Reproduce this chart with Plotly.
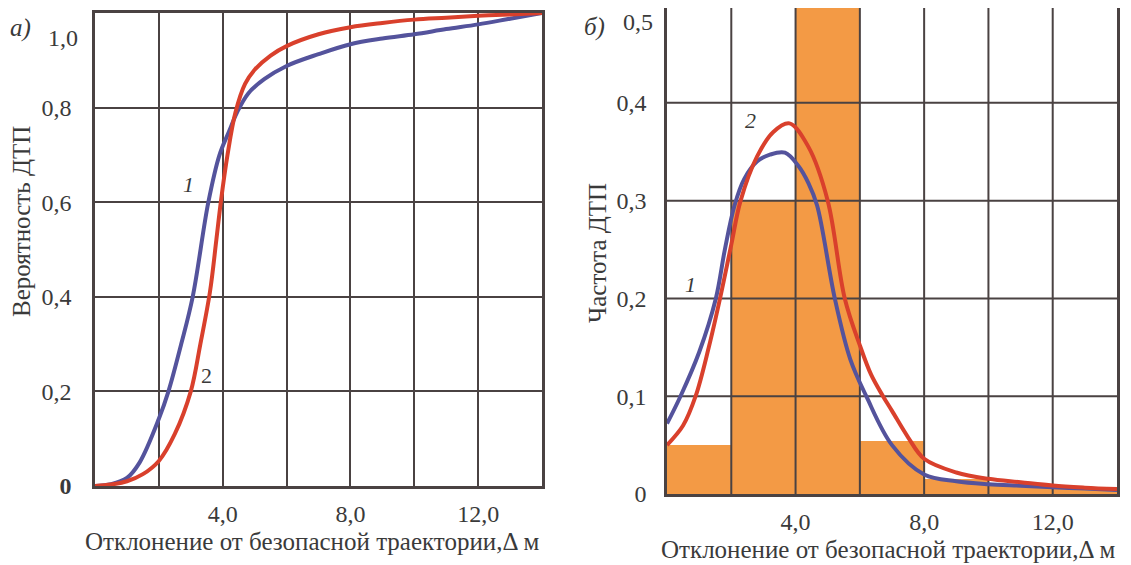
import plotly.graph_objects as go

# ---------------- data ----------------
# panel а) cumulative probability of accident
cdf1_x = [0, 0.5, 1.0, 1.4, 2.0, 2.3, 2.7, 3.06, 3.55, 3.9, 4.2, 4.45, 4.8, 5.3, 6.0, 7.0, 8.0, 9.0, 10.0, 11.0, 12.0, 13.0, 14.0]
cdf1_y = [0, 0.004, 0.017, 0.05, 0.142, 0.2, 0.3, 0.4, 0.6, 0.7, 0.75, 0.79, 0.83, 0.86, 0.888, 0.913, 0.934, 0.946, 0.955, 0.966, 0.976, 0.988, 1.0]
cdf2_x = [0, 0.5, 1.0, 1.5, 2.0, 2.5, 3.0, 3.3, 3.6, 3.8, 3.94, 4.15, 4.4, 4.7, 5.0, 5.5, 6.0, 7.0, 8.0, 9.0, 10.0, 11.0, 12.0, 13.0, 14.0]
cdf2_y = [0, 0.003, 0.01, 0.025, 0.053, 0.11, 0.2, 0.3, 0.41, 0.52, 0.6, 0.7, 0.79, 0.85, 0.88, 0.91, 0.93, 0.955, 0.97, 0.979, 0.986, 0.99, 0.994, 0.997, 1.0]

# panel б) accident frequency
hist_x = [1, 3, 5, 7, 9, 11, 13]
hist_y = [0.05, 0.30, 0.55, 0.054, 0.015, 0.009, 0.005]
pdf1_x = [0, 0.42, 1.0, 1.52, 1.8, 2.1, 2.4, 2.8, 3.2, 3.67, 4.1, 4.4, 4.67, 5.22, 5.7, 6.2, 7.0, 8.0, 9.0, 10.0, 11.0, 12.0, 13.0, 14.0]
pdf1_y = [0.072, 0.1, 0.145, 0.2, 0.25, 0.295, 0.322, 0.34, 0.347, 0.349, 0.335, 0.318, 0.295, 0.2, 0.138, 0.1, 0.05, 0.02, 0.013, 0.01, 0.0085, 0.007, 0.0055, 0.004]
pdf2_x = [0, 0.5, 0.89, 1.3, 1.65, 2.0, 2.29, 2.8, 3.3, 3.81, 4.4, 5.0, 5.53, 6.0, 6.35, 6.72, 7.0, 7.5, 8.0, 9.0, 10.0, 11.0, 12.0, 13.0, 14.0]
pdf2_y = [0.05, 0.07, 0.1, 0.15, 0.2, 0.255, 0.3, 0.345, 0.37, 0.379, 0.355, 0.3, 0.2, 0.152, 0.122, 0.1, 0.085, 0.058, 0.036, 0.022, 0.0155, 0.012, 0.0086, 0.0065, 0.005]

x_ticks = [0, 2, 4, 6, 8, 10, 12, 14]
x_ticktext = ["", "", "4,0", "", "8,0", "", "12,0", ""]
y1_ticks = [0, 0.2, 0.4, 0.6, 0.8, 1.0]
y1_ticktext = ["<b>0</b>", "0,2", "0,4", "0,6", "0,8", ""]
y1_top_label = "1,0"
y2_ticks = [0, 0.1, 0.2, 0.3, 0.4, 0.5]
y2_ticktext = ["0", "0,1", "0,2", "0,3", "0,4", ""]
y2_top_label = "0,5"

x_title = "Отклонение от безопасной траектории,Δ м"
y1_title = "Вероятность ДТП"
y2_title = "Частота ДТП"

# ---------------- style ----------------
W, H = 1131, 565
OFF = 8  # page offset of the plot div inside the browser window
FONT = "Liberation Serif, DejaVu Serif, Times New Roman, serif"
TXT = "#3a3a3a"
GRID = "#4a4242"
BLUE = "#54539c"
RED = "#d9402c"
ORANGE = "#f39a45"
TICK_SIZE = 24

def px_x(p):
    return (p - OFF) / W

def px_y(p):
    return 1 - (p - OFF) / H

fig = go.Figure()

line_kw = dict(width=4, shape="spline", smoothing=1.0)

fig.add_trace(go.Scatter(x=cdf1_x, y=cdf1_y, mode="lines", line=dict(color=BLUE, **line_kw),
                         xaxis="x", yaxis="y", showlegend=False, hoverinfo="skip"))
fig.add_trace(go.Scatter(x=cdf2_x, y=cdf2_y, mode="lines", line=dict(color=RED, **line_kw),
                         xaxis="x", yaxis="y", showlegend=False, hoverinfo="skip"))

fig.add_trace(go.Bar(x=hist_x, y=hist_y, width=2, marker=dict(color=ORANGE, line=dict(width=0)),
                     xaxis="x2", yaxis="y2", showlegend=False, hoverinfo="skip"))

# right panel grid drawn over the bars
gx, gy = [], []
for v in x_ticks[1:-1]:
    gx += [v, v, None]
    gy += [0, 0.6, None]
for v in y2_ticks[1:-1]:
    gx += [x_ticks[0], x_ticks[-1], None]
    gy += [v, v, None]
fig.add_trace(go.Scatter(x=gx, y=gy, mode="lines", line=dict(color=GRID, width=2),
                         xaxis="x2", yaxis="y2", showlegend=False, hoverinfo="skip"))

fig.add_trace(go.Scatter(x=pdf1_x, y=pdf1_y, mode="lines", line=dict(color=BLUE, **line_kw),
                         xaxis="x2", yaxis="y2", showlegend=False, hoverinfo="skip"))
fig.add_trace(go.Scatter(x=pdf2_x, y=pdf2_y, mode="lines", line=dict(color=RED, **line_kw),
                         xaxis="x2", yaxis="y2", showlegend=False, hoverinfo="skip"))

tickfont = dict(family=FONT, size=TICK_SIZE, color=TXT)

common = dict(zeroline=False, showline=True, linecolor=GRID, linewidth=2.5, ticks="",
              tickfont=tickfont, automargin=False)

fig.update_layout(
    width=W, height=H, autosize=False,
    margin=dict(l=0, r=0, t=0, b=0, autoexpand=False),
    paper_bgcolor="white", plot_bgcolor="white",
    bargap=0,
    font=dict(family=FONT, color=TXT),
    xaxis=dict(domain=[px_x(95), px_x(542)], range=[0, 14], tickvals=x_ticks, ticktext=x_ticktext,
               showgrid=True, gridcolor=GRID, gridwidth=2, mirror=True,
               ticklabelstandoff=4, anchor="y", **common),
    yaxis=dict(domain=[px_y(486), px_y(13)], range=[0, 1.0], tickvals=y1_ticks, ticktext=y1_ticktext,
               showgrid=True, gridcolor=GRID, gridwidth=2, mirror=True,
               ticklabelstandoff=16, anchor="x", **common),
    xaxis2=dict(domain=[px_x(667), px_x(1117)], range=[0, 14], tickvals=x_ticks, ticktext=x_ticktext,
                showgrid=False, mirror=False,
                ticklabelstandoff=4, anchor="y2", **common),
    yaxis2=dict(domain=[px_y(494), px_y(OFF)], range=[0, 0.497], tickvals=y2_ticks, ticktext=y2_ticktext,
                showgrid=False, mirror=True,
                ticklabelstandoff=13, anchor="x2", **common),
)

ann = []
ann.append(dict(text=x_title, x=px_x(312), y=px_y(541), xref="paper", yref="paper", showarrow=False,
                font=dict(family=FONT, size=25, color=TXT), xanchor="center", yanchor="middle"))
ann.append(dict(text=x_title, x=px_x(888), y=px_y(549), xref="paper", yref="paper", showarrow=False,
                font=dict(family=FONT, size=25, color=TXT), xanchor="center", yanchor="middle"))
ann.append(dict(text=y1_title, x=px_x(22), y=px_y(222), xref="paper", yref="paper", showarrow=False, textangle=-90,
                font=dict(family=FONT, size=25, color=TXT), xanchor="center", yanchor="middle"))
ann.append(dict(text=y2_title, x=px_x(597), y=px_y(253), xref="paper", yref="paper", showarrow=False, textangle=-90,
                font=dict(family=FONT, size=25, color=TXT), xanchor="center", yanchor="middle"))
ann.append(dict(text=y1_top_label, x=px_x(80), y=px_y(38), xref="paper", yref="paper", showarrow=False,
                font=tickfont, xanchor="right", yanchor="middle"))
ann.append(dict(text=y2_top_label, x=px_x(655), y=px_y(22), xref="paper", yref="paper", showarrow=False,
                font=tickfont, xanchor="right", yanchor="middle"))
ann.append(dict(text="<i>а)</i>", x=px_x(20), y=px_y(28), xref="paper", yref="paper", showarrow=False,
                font=dict(family=FONT, size=25, color=TXT), xanchor="center", yanchor="middle"))
ann.append(dict(text="<i>б)</i>", x=px_x(594), y=px_y(27), xref="paper", yref="paper", showarrow=False,
                font=dict(family=FONT, size=25, color=TXT), xanchor="center", yanchor="middle"))
ann.append(dict(text="<i>1</i>", x=2.94, y=0.638, xref="x", yref="y", showarrow=False,
                font=dict(family=FONT, size=22, color=TXT)))
ann.append(dict(text="2", x=3.49, y=0.233, xref="x", yref="y", showarrow=False,
                font=dict(family=FONT, size=22, color=TXT)))
ann.append(dict(text="<i>2</i>", x=2.6, y=0.382, xref="x2", yref="y2", showarrow=False,
                font=dict(family=FONT, size=22, color=TXT)))
ann.append(dict(text="<i>1</i>", x=0.74, y=0.214, xref="x2", yref="y2", showarrow=False,
                font=dict(family=FONT, size=22, color=TXT)))
fig.update_layout(annotations=ann)

fig.write_html("out.html")
